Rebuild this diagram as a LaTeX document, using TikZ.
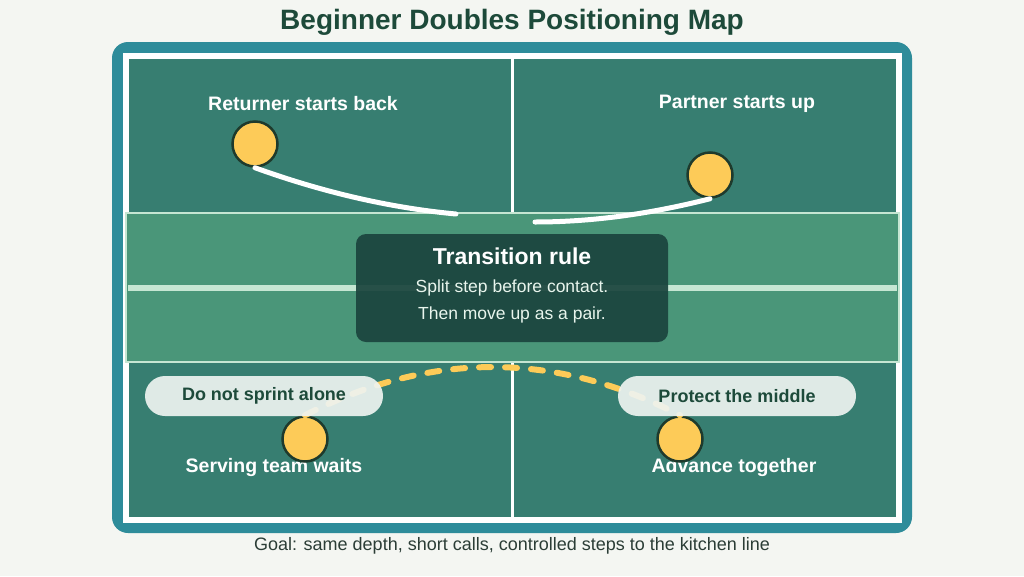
\documentclass[tikz,border=0pt]{standalone}
\usepackage{fontspec}
\setmainfont{Liberation Sans}
\usepackage{xcolor}
\usetikzlibrary{positioning}
\definecolor{pagebg}{HTML}{F4F6F2}
\definecolor{frameteal}{HTML}{2E8C9A}
\definecolor{courtgreen}{HTML}{377E71}
\definecolor{kitchengreen}{HTML}{4A9679}
\definecolor{mintline}{HTML}{C6E6D3}
\definecolor{boxdark}{HTML}{1B453E}
\definecolor{ballyellow}{HTML}{FDCB58}
\definecolor{playerline}{HTML}{1E3A2C}
\definecolor{pillfill}{HTML}{EEF4F1}
\definecolor{titlegreen}{HTML}{1D4A3A}
\definecolor{footgray}{HTML}{2B3D36}

\begin{document}
\begin{tikzpicture}[x=1pt,y=-1pt,
  player/.style={circle,draw=playerline,line width=2.5pt,fill=ballyellow,minimum size=45pt,inner sep=0pt},
  zonelabel/.style={text=white,font=\bfseries\fontsize{19.5}{23}\selectfont},
  tipbox/.style={fill=pillfill,fill opacity=0.92,text opacity=1,rounded corners=20pt,minimum width=238pt,minimum height=40pt,text=titlegreen,font=\bfseries\fontsize{18}{21}\selectfont},
  moveline/.style={white,line width=5pt,line cap=round},
  waitline/.style={ballyellow,line width=6pt,line cap=round,dash pattern=on 12pt off 14pt},
  ruletext/.style={text=mintline!40!white,font=\fontsize{17.5}{21}\selectfont}]
  \useasboundingbox[fill=pagebg] (0,0) rectangle (1024,576);
  % frame and court
  \fill[frameteal,rounded corners=16pt] (112,42) rectangle (912,533);
  \draw[white,line width=6pt,fill=courtgreen] (126,56) rectangle (899,520);
  \draw[white,line width=3pt] (512,56) -- (512,520);
  % kitchen
  \draw[mintline,line width=2.5pt,fill=kitchengreen] (126,213) rectangle (899,362);
  \draw[mintline,line width=6pt] (128,288) -- (897,288);

  \node[font=\bfseries\fontsize{28}{32}\selectfont,text=titlegreen] (title) at (512,22) {Beginner Doubles Positioning Map};

  \node[zonelabel] (retlabel) at (303,104) {Returner starts back};
  \node[zonelabel] (partlabel) at (737,104) {Partner starts up};
  \node[zonelabel] (servlabel) at (274,467) {Serving team waits};
  \node[zonelabel] (advlabel) at (734,467) {Advance together};

  \node[player] (returner) at (255,144) {};
  \node[player] (partner) at (710,175) {};
  \node[player] (serverl) at (305,439) {};
  \node[player] (serverr) at (680,439) {};

  \coordinate (retend) at (456,214);
  \coordinate (partend) at (535,222);
  \draw[moveline] (returner.south) .. controls (325,193) and (392,208) .. (retend);
  \draw[moveline] (partner.south) .. controls (650,214) and (592,222) .. (partend);
  \draw[waitline] (serverl.north) .. controls (430,351) and (555,351) .. (serverr.north);

  \node[tipbox] (tipleft) at (264,396) {Do not sprint alone};
  \node[tipbox] (tipright) at (737,396) {Protect the middle};

  % transition rule
  \node[fill=boxdark,fill opacity=0.93,rounded corners=10pt,minimum width=312pt,minimum height=108pt] (rule) at (512,288) {};
  \node[text=white,font=\bfseries\fontsize{23}{27}\selectfont] (ruletitle) at (512,256) {Transition rule};
  \node[ruletext] (ruleone) at (512,288) {Split step before contact.};
  \node[ruletext] (ruletwo) at (512,315) {Then move up as a pair.};

  \node[text=footgray,font=\fontsize{18}{21}\selectfont] (goal) at (512,546) {Goal: same depth, short calls, controlled steps to the kitchen line};
\end{tikzpicture}
\end{document}
